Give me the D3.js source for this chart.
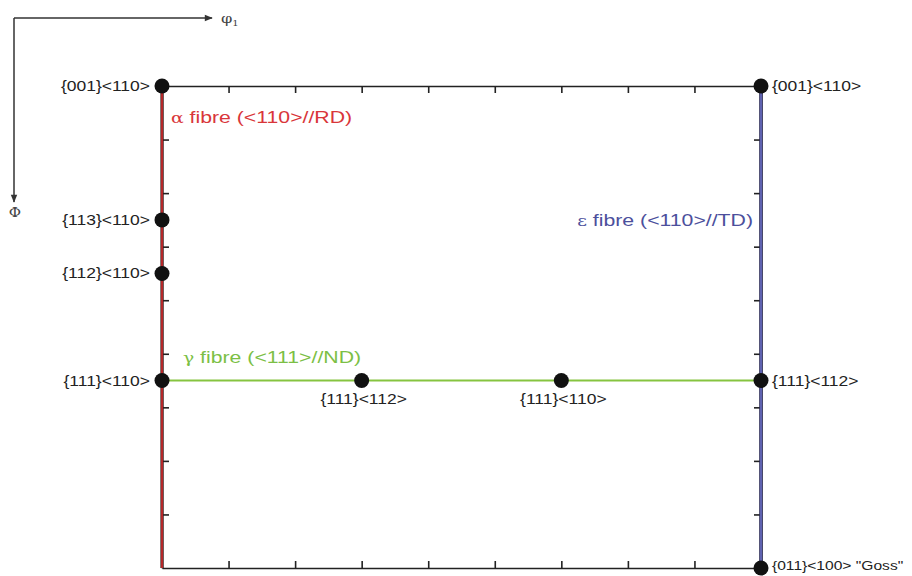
<!DOCTYPE html>
<html>
<head>
<meta charset="utf-8">
<script src="https://cdn.jsdelivr.net/npm/d3@7"></script>
<style>
  html, body { margin: 0; padding: 0; background: #fff; }
  svg { display: block; }
  text { font-family: "Liberation Sans", Arial, sans-serif; }
</style>
</head>
<body>
<svg id="chart" width="912" height="576"></svg>
<script>
// Euler space section (phi2 = 45°): phi1 along x, PHI along y, both 0–90°
const tickDegrees = [10, 20, 30, 40, 50, 60, 70, 80];

// Fibre lines: [phi1, PHI] end points
const alphaFibre = [[0, 0], [0, 90]];
const gammaFibre = [[0, 55], [90, 55]];
const epsilonFibre = [[90, 0], [90, 90]];

// Ideal orientations
const orientNames = ["{001}<110>", "{113}<110>", "{112}<110>", "{111}<110>",
                     "{111}<112>", "{111}<110>", "{001}<110>", "{111}<112>", "{011}<100> \"Goss\""];
const orientPhi1 = [0, 0, 0, 0, 30, 60, 90, 90, 90];
const orientPHI  = [0, 25, 35, 55, 55, 55, 0, 55, 90];
const orientSide = ["left", "left", "left", "left", "below", "below", "right", "right", "right"];

const svg = d3.select("#chart");
const x = d3.scaleLinear().domain([0, 90]).range([162, 761]);
const y = d3.scaleLinear().domain([0, 90]).range([86, 568]);

// Text in this figure is set wide
const WIDE = 1.25;
const place = (px, py, s = WIDE) => `translate(${px},${py}) scale(${s},1)`;

// Orientation arrows in the corner
const defs = svg.append("defs");
defs.append("marker").attr("id", "arrow")
  .attr("viewBox", "0 0 10 10").attr("refX", 9).attr("refY", 5)
  .attr("markerWidth", 15).attr("markerHeight", 8).attr("markerUnits", "userSpaceOnUse")
  .attr("orient", "auto")
  .append("path").attr("d", "M0,1 L10,5 L0,9 Z").attr("fill", "#333");
svg.append("path").attr("d", "M14,18 H212").attr("stroke", "#333").attr("stroke-width", 1.5)
  .attr("fill", "none").attr("marker-end", "url(#arrow)");
svg.append("path").attr("d", "M14,18 V202").attr("stroke", "#333").attr("stroke-width", 1.5)
  .attr("fill", "none").attr("marker-end", "url(#arrow)");
const phiLab = svg.append("text").attr("transform", place(221, 23))
  .style("font-family", "'DejaVu Serif', serif").style("font-size", "13px").attr("fill", "#444");
phiLab.append("tspan").text("\u03C6");
phiLab.append("tspan").attr("font-size", "8px").attr("dy", 3).text("1");
svg.append("text").attr("transform", place(15, 217)).attr("text-anchor", "middle")
  .style("font-family", "'DejaVu Serif', serif").style("font-size", "12px").attr("fill", "#444")
  .text("\u03A6");

// Frame with inward ticks
const axisStyle = g => {
  g.select(".domain").attr("stroke", "#222").attr("stroke-width", 1.6);
  g.selectAll(".tick line").attr("stroke", "#222").attr("stroke-width", 1.6);
  g.selectAll(".tick text").remove();
};
svg.append("g").attr("transform", `translate(0,${y(0)})`)
  .call(d3.axisTop(x).tickValues(tickDegrees).tickSize(-7).tickSizeOuter(0).tickFormat(""))
  .call(axisStyle);
svg.append("g").attr("transform", `translate(0,${y(90)})`)
  .call(d3.axisBottom(x).tickValues(tickDegrees).tickSize(-7).tickSizeOuter(0).tickFormat(""))
  .call(axisStyle);
svg.append("g").attr("transform", `translate(${x(0)},0)`)
  .call(d3.axisLeft(y).tickValues(tickDegrees).tickSize(-7).tickSizeOuter(0).tickFormat(""))
  .call(axisStyle);
svg.append("g").attr("transform", `translate(${x(90)},0)`)
  .call(d3.axisRight(y).tickValues(tickDegrees).tickSize(-7).tickSizeOuter(0).tickFormat(""))
  .call(axisStyle);

// Fibres
const line = d3.line().x(d => x(d[0])).y(d => y(d[1]));
svg.append("path").datum(alphaFibre).attr("d", line).attr("stroke", "#3a1a1a").attr("stroke-width", 3.2).attr("fill", "none");
svg.append("path").datum(alphaFibre).attr("d", line).attr("stroke", "#d52b2e").attr("stroke-width", 1.6).attr("fill", "none");
svg.append("path").datum(epsilonFibre).attr("d", line).attr("stroke", "#2a2a55").attr("stroke-width", 3.6).attr("fill", "none");
svg.append("path").datum(epsilonFibre).attr("d", line).attr("stroke", "#5f62b0").attr("stroke-width", 2).attr("fill", "none");
svg.append("path").datum(gammaFibre).attr("d", line).attr("stroke", "#86c440").attr("stroke-width", 2).attr("fill", "none");

// Fibre names
const fibreFont = "17px";
const alphaT = svg.append("text").attr("transform", place(x(0) + 9, 123)).attr("fill", "#d9363a").style("font-size", fibreFont);
alphaT.append("tspan").style("font-family", "'DejaVu Serif', serif").style("font-size", "15px").text("\u03B1");
alphaT.append("tspan").text(" fibre (<110>//RD)");
const epsT = svg.append("text").attr("transform", place(x(90) - 8, 226)).attr("text-anchor", "end").attr("fill", "#4c4f9c").style("font-size", fibreFont);
epsT.append("tspan").style("font-family", "'DejaVu Serif', serif").style("font-size", "15px").text("\u03B5");
epsT.append("tspan").text(" fibre (<110>//TD)");
const gamT = svg.append("text").attr("transform", place(x(0) + 21, 363)).attr("fill", "#7cbf45").style("font-size", fibreFont);
gamT.append("tspan").style("font-family", "'DejaVu Serif', serif").style("font-size", "15px").text("\u03B3");
gamT.append("tspan").text(" fibre (<111>//ND)");

// Orientation points and labels (the long corner label is set a little tighter)
const pts = orientNames.map((n, i) => ({ name: n, p1: orientPhi1[i], P: orientPHI[i], side: orientSide[i], long: n.length > 12 }));
svg.selectAll("circle.orient").data(pts).join("circle").attr("class", "orient")
  .attr("cx", d => x(d.p1)).attr("cy", d => y(d.P)).attr("r", 7.5).attr("fill", "#111");
svg.selectAll("text.orient").data(pts).join("text").attr("class", "orient")
  .attr("transform", d => place(
    d.side === "left" ? x(d.p1) - 12 : d.side === "right" ? x(d.p1) + 11 : x(d.p1) + 2,
    d.side === "below" ? y(d.P) + 23 : Math.min(y(d.P) + 5, 570),
    d.long ? 1.2 : WIDE))
  .attr("text-anchor", d => d.side === "left" ? "end" : d.side === "right" ? "start" : "middle")
  .attr("fill", "#222").style("font-size", d => d.long ? "13px" : "14px")
  .text(d => d.name);
</script>
</body>
</html>
